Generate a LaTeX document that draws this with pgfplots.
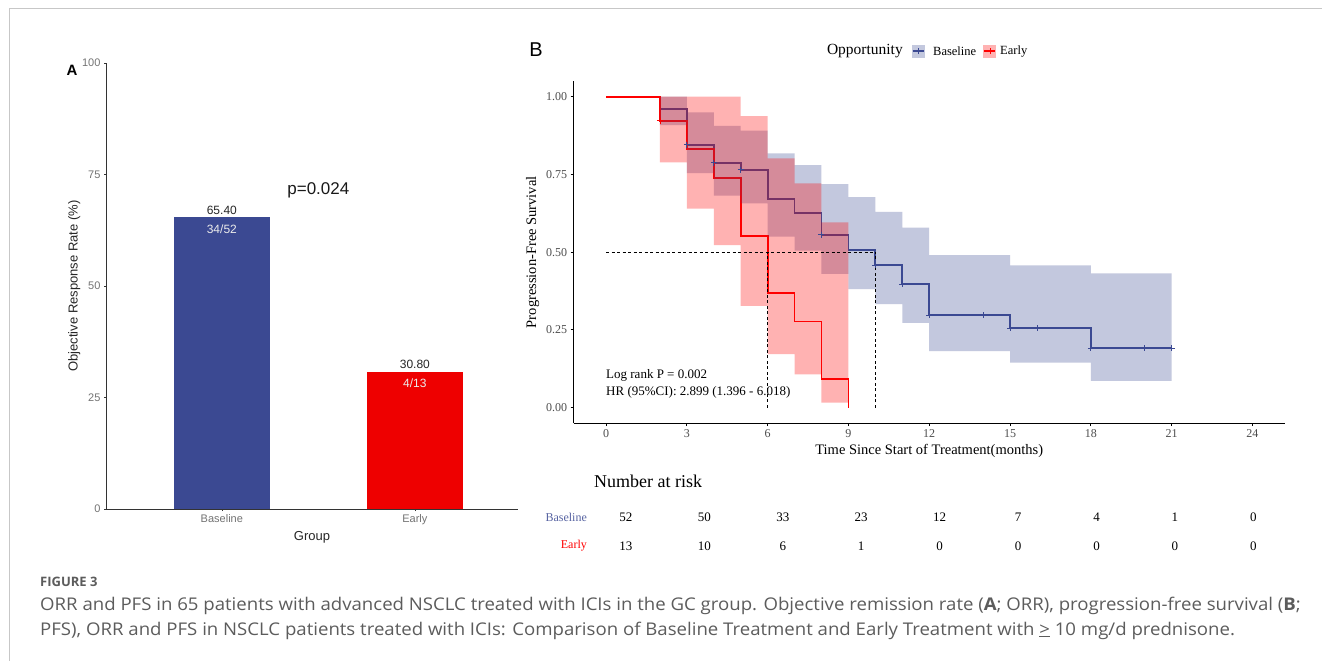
\documentclass[border=0pt]{standalone}
\usepackage{fontspec}
\setmainfont{Liberation Serif}
\newfontfamily\arial{Liberation Sans}
\newfontfamily\opensans{Open Sans}
\usepackage{pgfplots}
\usepackage{pgfplotstable}
\pgfplotsset{compat=1.18}
\definecolor{aaasblue}{HTML}{3B4992}
\definecolor{aaasred}{HTML}{EE0000}
\definecolor{kmred}{HTML}{FF0000}
\definecolor{tickgray}{HTML}{4D4D4D}
\definecolor{capgray}{HTML}{5C5C5C}

\pgfplotstableread{
t s
0 1
2 0.960
3 0.846
4 0.788
5 0.765
6 0.671
7 0.625
8 0.556
9 0.507
10 0.459
11 0.398
12 0.298
15 0.255
18 0.191
21 0.191
}\kmbase
\pgfplotstableread{
t s
0 1
2 0.923
3 0.833
4 0.738
5 0.553
6 0.369
7 0.277
8 0.092
9 0
}\kmearly
\pgfplotstableread{
t s
3 0.846
4 0.788
5 0.765
8 0.556
10 0.459
11 0.398
12 0.298
14 0.298
15 0.255
16 0.255
18 0.191
20 0.191
21 0.191
}\cenbase
\pgfplotstableread{
t s
2 0.923
}\cenearly
\pgfplotstableread{
x y n
0 43 52
3 43 50
6 43 33
9 43 23
12 43 12
15 43 7
18 43 4
21 43 1
24 43 0
0 14 13
3 14 10
6 14 6
9 14 1
12 14 0
15 14 0
18 14 0
21 14 0
24 14 0
}\risk

\begin{document}
\begin{tikzpicture}
\useasboundingbox (0pt,0pt) rectangle (1322pt,-661pt);
\fill[white] (0pt,0pt) rectangle (1322pt,-661pt);
\draw[black!22, line width=1pt] (9pt,-661pt) -- (9pt,-9pt) -- (1322pt,-9pt);

% ---------- Panel A ----------
\begin{axis}[
  at={(106pt,-509pt)}, anchor=south west,
  scale only axis, width=412pt, height=446pt,
  xmin=0.4, xmax=2.534, ymin=0, ymax=100,
  axis x line*=bottom, axis y line*=left,
  axis line style={-, line width=1pt, black!80},
  xtick={1,2}, xticklabels={Baseline,Early},
  ytick={0,25,50,75,100},
  tick align=outside, major tick length=2pt,
  tick style={black!80, line width=0.6pt},
  ticklabel style={font=\arial\fontsize{11}{11}\selectfont, text=black!55},
  /pgf/number format/assume math mode=true,
  xlabel={Group}, ylabel={Objective Response Rate (\%)},
  ylabel shift=-5pt,
  label style={font=\arial\fontsize{13}{13}\selectfont, text=black!85},
  clip=false,
]
\addplot[ybar, bar width=0.5, fill=aaasblue, draw=none,
  nodes near coords, every node near coord/.append style={font=\arial\fontsize{12}{12}\selectfont, text=black!85, yshift=-1pt},
  /pgf/number format/.cd, fixed, fixed zerofill, precision=2] coordinates {(1,65.4)};
\addplot[ybar, bar width=0.5, fill=aaasred, draw=none,
  nodes near coords, every node near coord/.append style={font=\arial\fontsize{12}{12}\selectfont, text=black!85, yshift=-1pt},
  /pgf/number format/.cd, fixed, fixed zerofill, precision=2] coordinates {(2,30.8)};
\node[anchor=north, yshift=-4pt, font=\arial\fontsize{12}{12}\selectfont, text=white!92!black] at (axis cs:1,65.4) {34/52};
\node[anchor=north, yshift=-4pt, font=\arial\fontsize{12}{12}\selectfont, text=white!92!black] at (axis cs:2,30.8) {4/13};
\node[font=\arial\fontsize{17}{17}\selectfont, text=black!90] at (axis cs:1.5,71.5) {p=0.024};
\end{axis}
\node[font=\arial\bfseries\fontsize{15}{15}\selectfont] at (72pt,-70pt) {A};

% ---------- Panel B ----------
\node[font=\arial\fontsize{20}{20}\selectfont] at (536pt,-50pt) {B};
\begin{axis}[
  at={(573.7pt,-423.2pt)}, anchor=south west,
  scale only axis, width=711pt, height=342pt,
  xmin=-1.2, xmax=25.2, ymin=-0.05, ymax=1.05,
  axis x line*=bottom, axis y line*=left,
  axis line style={-, line width=1.3pt, black},
  xtick={0,3,...,24}, ytick={0,0.25,0.5,0.75,1},
  yticklabel style={/pgf/number format/.cd, fixed, fixed zerofill, precision=2},
  tick align=outside, major tick length=3pt,
  tick style={black, line width=0.9pt},
  ticklabel style={font=\fontsize{12}{12}\selectfont, text=tickgray},
  /pgf/number format/assume math mode=true,
  xlabel={Time Since Start of Treatment(months)},
  ylabel={Progression-Free Survival},
  label style={font=\fontsize{14.5}{14.5}\selectfont},
  clip=false,
]
% lines
\addplot[const plot, aaasblue, line width=1.8pt] table[x=t,y=s]{\kmbase};
\addplot[const plot, kmred, line width=1.8pt] table[x=t,y=s]{\kmearly};
% ribbons (upper steps forward, lower steps backward)
\addplot[fill=aaasblue, fill opacity=0.3, draw=none] coordinates {
 (2,1.000)(3,1.000)(3,0.950)(4,0.950)(4,0.906)(5,0.906)(5,0.891)(6,0.891)
 (6,0.818)(7,0.818)(7,0.780)(8,0.780)(8,0.719)(9,0.719)(9,0.677)(10,0.677)
 (10,0.630)(11,0.630)(11,0.579)(12,0.579)(12,0.491)(15,0.491)(15,0.458)(18,0.458)
 (18,0.432)(21,0.432)
 (21,0.086)(18,0.086)(18,0.145)(15,0.145)(15,0.182)(12,0.182)(12,0.273)(11,0.273)
 (11,0.333)(10,0.333)(10,0.381)(9,0.381)(9,0.430)(8,0.430)(8,0.505)(7,0.505)
 (7,0.550)(6,0.550)(6,0.657)(5,0.657)(5,0.682)(4,0.682)(4,0.754)(3,0.754)
 (3,0.909)(2,0.909)} -- cycle;
\addplot[fill=kmred, fill opacity=0.3, draw=none] coordinates {
 (2,1.000)(5,1.000)(5,0.938)(6,0.938)(6,0.802)(7,0.802)(7,0.721)(8,0.721)
 (8,0.596)(9,0.596)
 (9,0.016)(8,0.016)(8,0.107)(7,0.107)(7,0.172)(6,0.172)(6,0.327)(5,0.327)
 (5,0.523)(4,0.523)(4,0.640)(3,0.640)(3,0.789)(2,0.789)} -- cycle;
% censor marks
\addplot[only marks, mark=+, mark size=3pt, aaasblue, mark options={line width=0.7pt}] table[x=t,y=s]{\cenbase};
\addplot[only marks, mark=+, mark size=3pt, kmred, mark options={line width=0.7pt}] table[x=t,y=s]{\cenearly};
% median lines
\addplot[black, dash pattern=on 3pt off 2.5pt, line width=0.8pt] coordinates {(0,0.5) (10,0.5)};
\addplot[black, dash pattern=on 3pt off 2.5pt, line width=0.8pt] coordinates {(6,0) (6,0.5)};
\addplot[black, dash pattern=on 3pt off 2.5pt, line width=0.8pt] coordinates {(10,0) (10,0.5)};
\node[anchor=west, font=\fontsize{13}{13}\selectfont, inner sep=0pt] at (axis cs:0,0.105) {Log rank P = 0.002};
\node[anchor=west, font=\fontsize{13}{13}\selectfont, inner sep=0pt] at (axis cs:0,0.050) {HR (95\%CI): 2.899 (1.396 - 6.018)};
% legend (drawn with rel axis cs)
\node[anchor=east, font=\fontsize{15.5}{15.5}\selectfont, inner sep=0pt] at (rel axis cs:0.4631,1.088) {Opportunity};
\fill[aaasblue, fill opacity=0.3] ([xshift=-6.5pt,yshift=-6.5pt]rel axis cs:0.4843,1.088) rectangle ([xshift=6.5pt,yshift=6.5pt]rel axis cs:0.4843,1.088);
\draw[aaasblue, line width=1.4pt] ([xshift=-5.5pt]rel axis cs:0.4843,1.088) -- ([xshift=5.5pt]rel axis cs:0.4843,1.088);
\draw[aaasblue, line width=0.7pt] ([yshift=-3pt]rel axis cs:0.4843,1.088) -- ([yshift=3pt]rel axis cs:0.4843,1.088);
\node[anchor=west, font=\fontsize{12.5}{12.5}\selectfont, inner sep=0pt] at (rel axis cs:0.5053,1.088) {Baseline};
\fill[kmred, fill opacity=0.3] ([xshift=-6.5pt,yshift=-6.5pt]rel axis cs:0.5855,1.088) rectangle ([xshift=6.5pt,yshift=6.5pt]rel axis cs:0.5855,1.088);
\draw[kmred, line width=1.4pt] ([xshift=-5.5pt]rel axis cs:0.5855,1.088) -- ([xshift=5.5pt]rel axis cs:0.5855,1.088);
\draw[kmred, line width=0.7pt] ([yshift=-3pt]rel axis cs:0.5855,1.088) -- ([yshift=3pt]rel axis cs:0.5855,1.088);
\node[anchor=west, font=\fontsize{12.5}{12.5}\selectfont, inner sep=0pt] at (rel axis cs:0.5996,1.088) {Early};
\end{axis}

% ---------- Risk table ----------
\node[anchor=base west, font=\fontsize{18}{18}\selectfont, inner sep=0pt] at (594pt,-487pt) {Number at risk};
\begin{axis}[
  at={(573.7pt,-560pt)}, anchor=south west,
  scale only axis, width=711pt, height=60pt,
  xmin=-2.0, xmax=25.2, ymin=0, ymax=60,
  hide axis, clip=false,
]
\addplot[only marks, mark=none, nodes near coords, point meta=explicit symbolic,
  every node near coord/.append style={anchor=center, font=\fontsize{13}{13}\selectfont, yshift=0pt}]
  table[x=x, y=y, meta=n]{\risk};
\node[anchor=east, font=\fontsize{12}{12}\selectfont, text=aaasblue!85, inner sep=0pt] at (axis cs:-1.49,43) {Baseline};
\node[anchor=east, font=\fontsize{12}{12}\selectfont, text=kmred, inner sep=0pt] at (axis cs:-1.49,14) {Early};
\end{axis}

% ---------- Caption ----------
\node[anchor=base west, inner sep=0pt, font=\opensans\bfseries\fontsize{13}{13}\selectfont, text=capgray] at (40pt,-586pt) {FIGURE 3};
\node[anchor=base west, inner sep=0pt, font=\opensans\fontsize{17.5}{17.5}\selectfont, text=capgray] at (40pt,-610.5pt) {\scalebox{1.063}[1]{ORR and PFS in 65 patients with advanced NSCLC treated with ICIs in the GC group. Objective remission rate (\textbf{A}; ORR), progression-free survival (\textbf{B};}};
\node[anchor=base west, inner sep=0pt, font=\opensans\fontsize{17.5}{17.5}\selectfont, text=capgray] at (40pt,-635pt) {\scalebox{1.063}[1]{PFS), ORR and PFS in NSCLC patients treated with ICIs: Comparison of Baseline Treatment and Early Treatment with \underline{>} 10 mg/d prednisone.}};
\end{tikzpicture}
\end{document}
